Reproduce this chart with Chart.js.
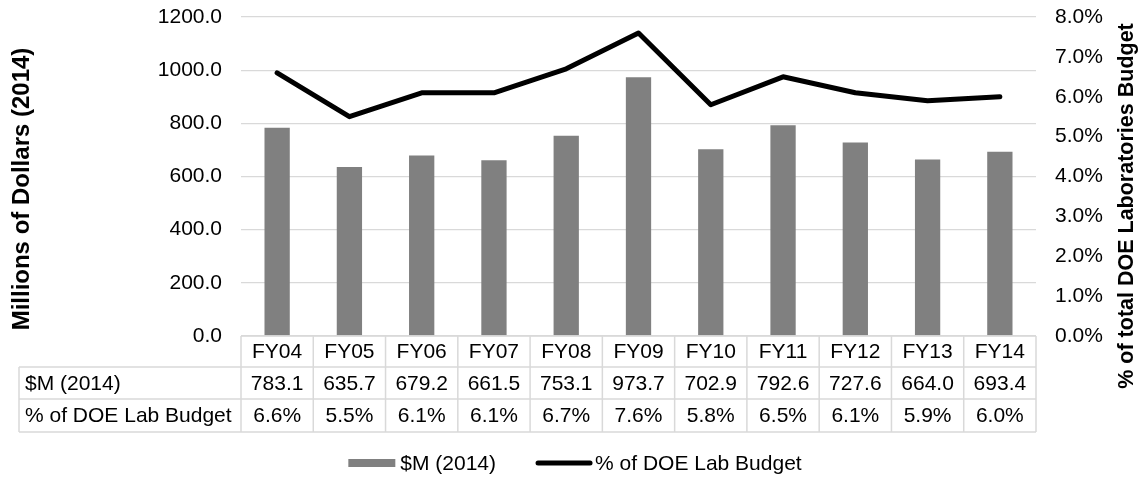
<!DOCTYPE html>
<html>
<head>
<meta charset="utf-8">
<title>DOE Lab Budget</title>
<script src="https://cdn.jsdelivr.net/npm/chart.js@4.4.1/dist/chart.umd.min.js"></script>
<style>
    body { margin: 0; background: #ffffff; }
    canvas { display: block; }
</style>
</head>
<body>
<canvas id="Chart" width="1138" height="478"></canvas>
<script>
// Fiscal years and the two series shown in the chart and its data table
const years = ['FY04', 'FY05', 'FY06', 'FY07', 'FY08', 'FY09', 'FY10', 'FY11', 'FY12', 'FY13', 'FY14'];
const dollars = [783.1, 635.7, 679.2, 661.5, 753.1, 973.7, 702.9, 792.6, 727.6, 664.0, 693.4];
const labShare = [6.6, 5.5, 6.1, 6.1, 6.7, 7.6, 5.8, 6.5, 6.1, 5.9, 6.0];

const seriesNames = ['$M (2014)', '% of DOE Lab Budget'];
const dollarTicks = [0, 200, 400, 600, 800, 1000, 1200];
const shareTicks = [0, 1, 2, 3, 4, 5, 6, 7, 8];

const FONT = '"Liberation Sans", Arial, sans-serif';
const GRID = '#d9d9d9';
const BAR = '#808080';

// Data table under the plot, titles on both sides and the legend at the bottom
const tableAndLegend = {
    id: 'tableAndLegend',
    afterDraw(chart) {
        const ctx = chart.ctx;
        const area = chart.chartArea;
        const xs = chart.scales.x;
        const colW = (area.right - area.left) / years.length;
        const labelLeft = 19;
        const rows = [area.bottom, area.bottom + 31, area.bottom + 63, area.bottom + 96];

        ctx.save();
        ctx.strokeStyle = GRID;
        ctx.lineWidth = 1.5;
        ctx.beginPath();
        ctx.moveTo(area.left, rows[0]);
        ctx.lineTo(area.right, rows[0]);
        for (let r = 1; r < rows.length; r++) {
            ctx.moveTo(labelLeft, rows[r]);
            ctx.lineTo(area.right, rows[r]);
        }
        ctx.moveTo(labelLeft, rows[1]);
        ctx.lineTo(labelLeft, rows[3]);
        for (let i = 0; i <= years.length; i++) {
            const x = area.left + i * colW;
            ctx.moveTo(x, rows[0]);
            ctx.lineTo(x, rows[3]);
        }
        ctx.stroke();

        ctx.fillStyle = '#000000';
        ctx.font = '21px ' + FONT;
        ctx.textBaseline = 'middle';
        ctx.textAlign = 'left';
        ctx.fillText(seriesNames[0], 25, (rows[1] + rows[2]) / 2 + 1);
        ctx.fillText(seriesNames[1], 25, (rows[2] + rows[3]) / 2 + 1);

        ctx.textAlign = 'center';
        years.forEach((yr, i) => {
            const cx = xs.getPixelForValue(i);
            ctx.fillText(yr, cx, (rows[0] + rows[1]) / 2 + 1);
            ctx.fillText(dollars[i].toFixed(1), cx, (rows[1] + rows[2]) / 2 + 1);
            ctx.fillText(labShare[i].toFixed(1) + '%', cx, (rows[2] + rows[3]) / 2 + 1);
        });

        // legend
        const ly = 463;
        const w0 = ctx.measureText(seriesNames[0]).width;
        const w1 = ctx.measureText(seriesNames[1]).width;
        const total = 47 + 5 + w0 + 40 + 56 + 3 + w1;
        let lx = 575 - total / 2;
        ctx.fillStyle = BAR;
        ctx.fillRect(lx, ly - 4, 47, 8);
        lx += 52;
        ctx.fillStyle = '#000000';
        ctx.textAlign = 'left';
        ctx.fillText(seriesNames[0], lx, ly + 1);
        lx += w0 + 40;
        ctx.strokeStyle = '#000000';
        ctx.lineWidth = 5;
        ctx.lineCap = 'round';
        ctx.beginPath();
        ctx.moveTo(lx + 2, ly);
        ctx.lineTo(lx + 54, ly);
        ctx.stroke();
        lx += 59;
        ctx.fillText(seriesNames[1], lx, ly + 1);

        // axis titles
        ctx.textAlign = 'center';
        ctx.font = 'bold 24px ' + FONT;
        ctx.translate(22, 189);
        ctx.rotate(-Math.PI / 2);
        ctx.fillText('Millions of Dollars (2014)', 0, 0);
        ctx.setTransform(1, 0, 0, 1, 0, 0);
        ctx.font = 'bold 21.5px ' + FONT;
        ctx.translate(1127, 206);
        ctx.rotate(-Math.PI / 2);
        ctx.fillText('% of total DOE Laboratories Budget', 0, 0);
        ctx.restore();
    }
};

// fixed axis widths; the top/bottom label padding is dropped so the plot can start at y = 17
function fixWidth(w) {
    return s => {
        s.width = w;
        s.paddingTop = 0;
        s.paddingBottom = 0;
    };
}

const ctx = document.getElementById('Chart').getContext('2d');
const myChart = new Chart(ctx, {
    type: 'bar',
    data: {
        labels: years,
        datasets: [{
            type: 'line',
            label: seriesNames[1],
            data: labShare,
            yAxisID: 'y1',
            borderColor: '#000000',
            borderWidth: 5,
            pointRadius: 0,
            tension: 0,
            borderJoinStyle: 'round',
            borderCapStyle: 'round',
            order: 0
        }, {
            label: seriesNames[0],
            data: dollars,
            yAxisID: 'y',
            backgroundColor: BAR,
            barPercentage: 0.35,
            categoryPercentage: 1,
            order: 1
        }]
    },
    options: {
        responsive: false,
        animation: false,
        layout: { padding: { top: 17, left: 0, right: 0, bottom: 0 } },
        plugins: {
            legend: { display: false },
            tooltip: { enabled: false }
        },
        scales: {
            x: {
                ticks: { display: false },
                grid: { display: false },
                border: { display: false },
                afterFit: s => { s.height = 142; }
            },
            y: {
                position: 'left',
                min: dollarTicks[0],
                max: dollarTicks[dollarTicks.length - 1],
                afterBuildTicks: s => { s.ticks = dollarTicks.map(v => ({ value: v })); },
                ticks: {
                    padding: 19,
                    color: '#000000',
                    font: { family: FONT, size: 21 },
                    callback: v => v.toFixed(1)
                },
                grid: { color: GRID, lineWidth: 1.3, drawTicks: false },
                border: { display: false },
                afterFit: fixWidth(241)
            },
            y1: {
                position: 'right',
                min: shareTicks[0],
                max: shareTicks[shareTicks.length - 1],
                afterBuildTicks: s => { s.ticks = shareTicks.map(v => ({ value: v })); },
                ticks: {
                    padding: 19,
                    color: '#000000',
                    font: { family: FONT, size: 21 },
                    callback: v => v.toFixed(1) + '%'
                },
                grid: { display: false, drawTicks: false },
                border: { display: false },
                afterFit: fixWidth(102)
            }
        }
    },
    plugins: [tableAndLegend]
});
</script>
</body>
</html>
